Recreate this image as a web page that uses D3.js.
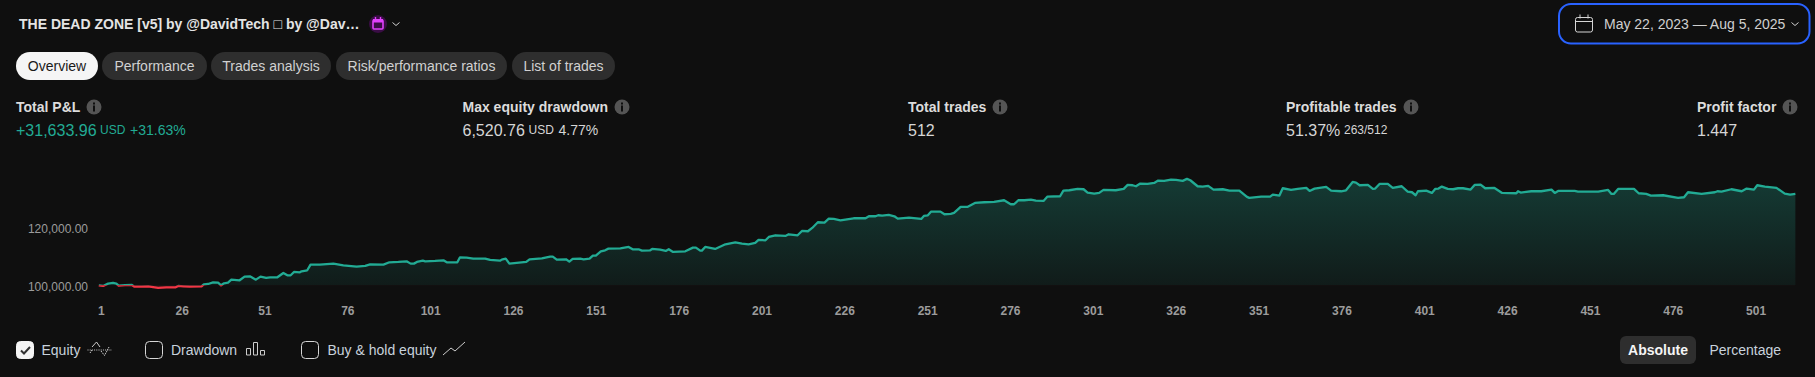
<!DOCTYPE html>
<html><head><meta charset="utf-8">
<script src="https://cdn.jsdelivr.net/npm/d3@7/dist/d3.min.js"></script>
<style>
html,body{margin:0;padding:0;background:#0f0f0f;overflow:hidden}
svg{display:block}
text{font-family:"Liberation Sans",Arial,sans-serif}
</style></head><body>
<svg id="c" width="1815" height="377"></svg>
<script>
const tradePositions=[1,2.3,3.8,5.3,6.3,7,8.9,11,11.7,13.9,15.9,18.9,21.4,24.2,25,26.5,28.5,32,32.7,34,35.5,37,37.9,38.8,40,41,43.5,45,46.6,48.4,49.8,51.5,52.7,54.9,56.7,57.9,58.9,59.9,61.7,62.2,63.9,64.9,67.7,71.8,74.8,78.8,81.4,82.9,86.9,88.7,91.4,93.9,95.1,96.1,97,98.8,99.5,102.5,105,106,109.2,110,112,114,117.6,119.1,
122.1,122.6,123.8,124.9,127.1,130,131,134.7,137.2,138,139.2,142,143,144,146.3,147.3,149.1,150.1,151,152.5,153.8,154.8,158.4,160.9,162.1,163.9,164.9,167.4,168,170.4,172.1,173,174.3,178,180.3,181.2,182.5,183,184,187,190.1,193.1,195.1,197.1,199.1,200.1,202.2,203.2,205.2,208.2,209.2,211.9,213.2,215,216.3,218,220,221.3,222.8,224.8,228.8,232.4,233.4,235.4,236.2,237.4,239.4,241.1,242.1,245.5,249.2,250,251.2,252.2,255,256.2,
258.1,259.1,261.1,263.1,265.4,268.2,271.2,274.2,276.2,277.2,278.5,280.3,282.3,283.8,286.1,287.3,291.1,292.1,293.9,296.4,298.2,299.4,301.4,302.9,304.2,307.9,310.3,311.5,313,314,315.3,317.5,319.5,320.7,322.5,324.6,326.1,328.1,329.4,330.4,332.6,334.1,335.8,337.4,340.2,342.2,345.2,347.5,348.2,351.8,354.5,355.3,357.3,358.3,360.8,362.8,365.4,366.4,367.9,371.4,372.9,375.9,377.4,379.4,380.4,381.5,384,385.5,386.2,387.5,
390,391.5,394.2,396,397.3,398.4,399.1,401.6,403.3,404.3,405.3,406.3,408.1,409.7,411.2,412.7,415,416.2,418,419.4,422.2,424.5,428.8,429.3,430.1,433.3,436.3,439.4,440.4,441.4,446.4,447.4,453.5,456.5,457.5,458.2,459.5,464.3,465.7,468,469.4,473.1,477.6,479.4,480.6,484.7,488.7,489.5,490.7,493.7,496.8,498.3,500.5,501.5,503.8,507.3,509.8,511.4,513];
const equityValues=[100000,99770,100575,100800,100575,99885,100050,100115,99540,99540,99655,99080,99310,99310,99770,99655,99540,99655,100345,100460,101035,100920,100000,100690,100920,101955,101725,102990,103105,101955,102990,102530,102760,102760,104255,103450,103450,104600,104485,104830,105175,107130,107130,107475,106900,106440,106670,107245,107130,107935,108050,108280,107475,107475,108050,108510,108280,108395,108625,107935,107935,109660,109545,109200,109200,108740,
108500,108855,109200,107475,107705,108050,108970,109315,109890,109890,108855,108970,108165,109085,109200,108970,109200,110235,110235,111730,112075,112650,112765,113225,112420,112420,111960,112075,112535,112305,111845,112420,111500,111730,112995,112995,111960,111960,113225,112535,114145,114835,114375,114145,114605,115640,115525,116675,117250,117020,117595,117250,118745,118630,119780,121735,121620,123000,122885,122425,123115,123115,123805,123805,124150,124035,124265,123805,123000,123345,122885,123920,124150,125415,125415,124495,
124610,124955,127025,127025,128405,128635,128750,129325,127945,127945,129325,129325,129555,129210,129095,130590,130705,132660,132775,133235,133120,131970,131625,131855,132890,132775,133235,134615,134500,134155,135075,134960,135305,136110,135995,136455,136340,135995,136685,136225,134155,134040,134270,133005,133120,132660,132660,130475,130130,130590,130590,131280,130935,133465,132890,133235,133580,132545,133350,133925,132660,132430,132775,135650,135420,134500,134615,133235,133350,134960,
134960,133580,134155,132315,132085,131050,132430,132660,131855,133235,133350,134040,133235,133120,133465,133465,133005,134615,134730,133465,133580,131855,131740,132430,131970,132430,132430,133005,131855,132545,132545,132315,132315,132890,131510,131510,133235,133235,131740,131510,130935,131050,130130,130360,132085,131510,132085,132430,132315,133120,132430,133350,133005,134500,134040,133580,131625,131280,131510];
const xTickLabels=[1,26,51,76,101,126,151,176,201,226,251,276,301,326,351,376,401,426,451,476,501];
const yTickLabels=[100000,120000];
const tabs=["Overview","Performance","Trades analysis","Risk/performance ratios","List of trades"];
const initialCapital=100000;

const TEAL="#22ab94",RED="#f23645",TXT="#d6d6d6";
const svg=d3.select("#c");
const defs=svg.append("defs");
const x=d3.scaleLinear().domain([1,501]).range([98.8,1755.6]);
const y=d3.scaleLinear().domain([100000,120000]).range([285.3,227.3]);
const pts=tradePositions.map((t,i)=>[t,equityValues[i]]);

const grad=defs.append("linearGradient").attr("id","g").attr("gradientUnits","userSpaceOnUse")
 .attr("x1",0).attr("x2",0).attr("y1",y(136700)).attr("y2",y(initialCapital));
grad.append("stop").attr("offset",0).attr("stop-color",TEAL).attr("stop-opacity",.28);
grad.append("stop").attr("offset",1).attr("stop-color",TEAL).attr("stop-opacity",.08);
defs.append("clipPath").attr("id","above").append("rect").attr("x",0).attr("width",1815).attr("y",0).attr("height",y(initialCapital));
defs.append("clipPath").attr("id","below").append("rect").attr("x",0).attr("width",1815).attr("y",y(initialCapital)).attr("height",60);

svg.append("path").datum(pts).attr("fill","url(#g)").attr("clip-path","url(#above)")
 .attr("d",d3.area().x(d=>x(d[0])).y0(y(initialCapital)).y1(d=>y(d[1])));
svg.append("path").datum(pts).attr("fill",RED).attr("fill-opacity",.1).attr("clip-path","url(#below)")
 .attr("d",d3.area().x(d=>x(d[0])).y0(y(initialCapital)).y1(d=>y(d[1])));
const ln=d3.line().x(d=>x(d[0])).y(d=>y(d[1]));
[["above",TEAL],["below",RED]].forEach(([c,col])=>svg.append("path").datum(pts).attr("fill","none").attr("stroke",col)
 .attr("stroke-width",2.3).attr("stroke-linejoin","round").attr("clip-path",`url(#${c})`).attr("d",ln));

const ax=svg.append("g").attr("transform","translate(0,306)").call(d3.axisBottom(x).tickValues(xTickLabels).tickFormat(d3.format("d")).tickSize(0).tickPadding(0));
ax.select(".domain").remove();
ax.selectAll("text").attr("fill","#9c9c9c").attr("font-family","'Liberation Sans'").attr("font-size",12).attr("font-weight",700).attr("dy","0.72em")
 .attr("dx",d=>d===1?2:0);
const ay=svg.append("g").attr("transform","translate(88,1)").call(d3.axisLeft(y).tickValues(yTickLabels).tickFormat(d3.format(",.2f")).tickSize(0).tickPadding(0));
ay.select(".domain").remove();
ay.selectAll("text").attr("fill","#9c9c9c").attr("font-family","'Liberation Sans'").attr("font-size",12);

function T(s,px,py,o={}){return svg.append("text").attr("x",px).attr("y",py).attr("dominant-baseline","central")
 .attr("font-size",o.size||14).attr("font-weight",o.bold?700:400).attr("fill",o.fill||TXT).attr("text-anchor",o.anchor||"start").text(s);}

T("THE DEAD ZONE [v5] by @DavidTech \u25A1 by @Dav\u2026",19,24,{size:14,bold:true,fill:"#e4e4e4"});
function chevron(cx,cy,c){svg.append("path").attr("d",`M${cx-3.5} ${cy-1.5}L${cx} ${cy+1.5}L${cx+3.5} ${cy-1.5}`).attr("fill","none").attr("stroke",c||"#cfcfcf").attr("stroke-width",1);}
svg.append("circle").attr("cx",378).attr("cy",24).attr("r",9).attr("fill","#3a0d45");
svg.append("rect").attr("x",373).attr("y",20).attr("width",10).attr("height",9).attr("rx",1).attr("fill","none").attr("stroke","#e040fb").attr("stroke-width",1.6);
svg.append("rect").attr("x",373).attr("y",19).attr("width",10).attr("height",3.5).attr("fill","#e040fb");
svg.append("path").attr("d","M375.5 17v3M380.5 17v3").attr("stroke","#e040fb").attr("stroke-width",1.4);
chevron(396,24);

svg.append("rect").attr("x",1559).attr("y",4).attr("width",250.5).attr("height",39.5).attr("rx",12).attr("fill","none").attr("stroke","#2962ff").attr("stroke-width",2);
svg.append("rect").attr("x",1575.5).attr("y",17.5).attr("width",17).attr("height",14.5).attr("rx",2).attr("fill","none").attr("stroke","#d6d6d6");
svg.append("path").attr("d","M1575.5 21.5h17M1580 14.5v4M1588 14.5v4").attr("stroke","#d6d6d6").attr("fill","none");
T("May 22, 2023 \u2014 Aug 5, 2025",1604,24,{size:14,fill:"#cfcfcf"});
chevron(1795,24);

const tabX=[[16,98],[102,207],[211,331],[336,507],[512,615]];
tabs.forEach((t,i)=>{const[a,b]=tabX[i];
 svg.append("rect").attr("x",a).attr("y",52).attr("width",b-a).attr("height",28).attr("rx",14).attr("fill",i?"#2e2e2e":"#f5f5f5");
 T(t,(a+b)/2,66,{anchor:"middle",fill:i?"#d1d1d1":"#1a1a1a"});});

function info(cx,cy){svg.append("circle").attr("cx",cx).attr("cy",cy).attr("r",7.5).attr("fill","#555");
 svg.append("rect").attr("x",cx-1).attr("y",cy-1.5).attr("width",2).attr("height",6).attr("fill","#0f0f0f");
 svg.append("rect").attr("x",cx-1).attr("y",cy-4.5).attr("width",2).attr("height",2).attr("fill","#0f0f0f");}
function stat(px,label,iconX,parts){T(label,px,107,{bold:true,fill:"#dcdcdc"});info(iconX,107);
 parts.forEach(([s,dx,size,c])=>T(s,px+dx,130,{size,fill:c||TXT}));}
stat(16,"Total P&L",94,[["+31,633.96",0,16,TEAL],["USD",84,12,TEAL],["+31.63%",114,14,TEAL]]);
stat(462.5,"Max equity drawdown",622,[["6,520.76",0,16],["USD",66,12],["4.77%",96,14]]);
stat(908,"Total trades",1000,[["512",0,16]]);
stat(1286,"Profitable trades",1411,[["51.37%",0,16],["263/512",58,12]]);
stat(1697,"Profit factor",1790,[["1.447",0,16]]);

function box(px,on){svg.append("rect").attr("x",px+.5).attr("y",341.5).attr("width",17).attr("height",17).attr("rx",4)
 .attr("fill",on?"#f5f5f5":"none").attr("stroke",on?"#f5f5f5":"#d6d6d6");
 if(on)svg.append("path").attr("d",`M${px+5} 350.5l3 3l6 -6.5`).attr("fill","none").attr("stroke","#333").attr("stroke-width",2);}
const L="#c8d2dc";
box(16,true);T("Equity",41.5,350,{fill:L});
svg.append("path").attr("d","M87.5 350H112").attr("stroke","#ccc").attr("stroke-dasharray","1 1.2");
svg.append("path").attr("d","M92 347L96.5 342L100 347").attr("fill","none").attr("stroke","#ccc");
svg.append("path").attr("d","M90 353L92 350M101 351L104.5 355.5L109 347").attr("fill","none").attr("stroke","#ccc").attr("stroke-dasharray","1.5 .8");
box(145,false);T("Drawdown",171,350,{fill:L});
svg.append("path").attr("d","M246.5 348.5h4v6.5h-4zM253.5 342.5h4v12.5h-4zM260.5 350.5h4v4.5h-4z").attr("fill","none").attr("stroke","#ccc");
box(301,false);T("Buy & hold equity",327.5,350,{fill:L});
svg.append("path").attr("d","M443 355L451 348L455 351L465 342").attr("fill","none").attr("stroke","#ccc");

svg.append("rect").attr("x",1620).attr("y",336).attr("width",76).attr("height",28).attr("rx",6).attr("fill","#2e2e2e");
T("Absolute",1658,350,{bold:true,anchor:"middle",fill:"#f5f5f5"});
T("Percentage",1709.5,350,{fill:L});
</script></body></html>
